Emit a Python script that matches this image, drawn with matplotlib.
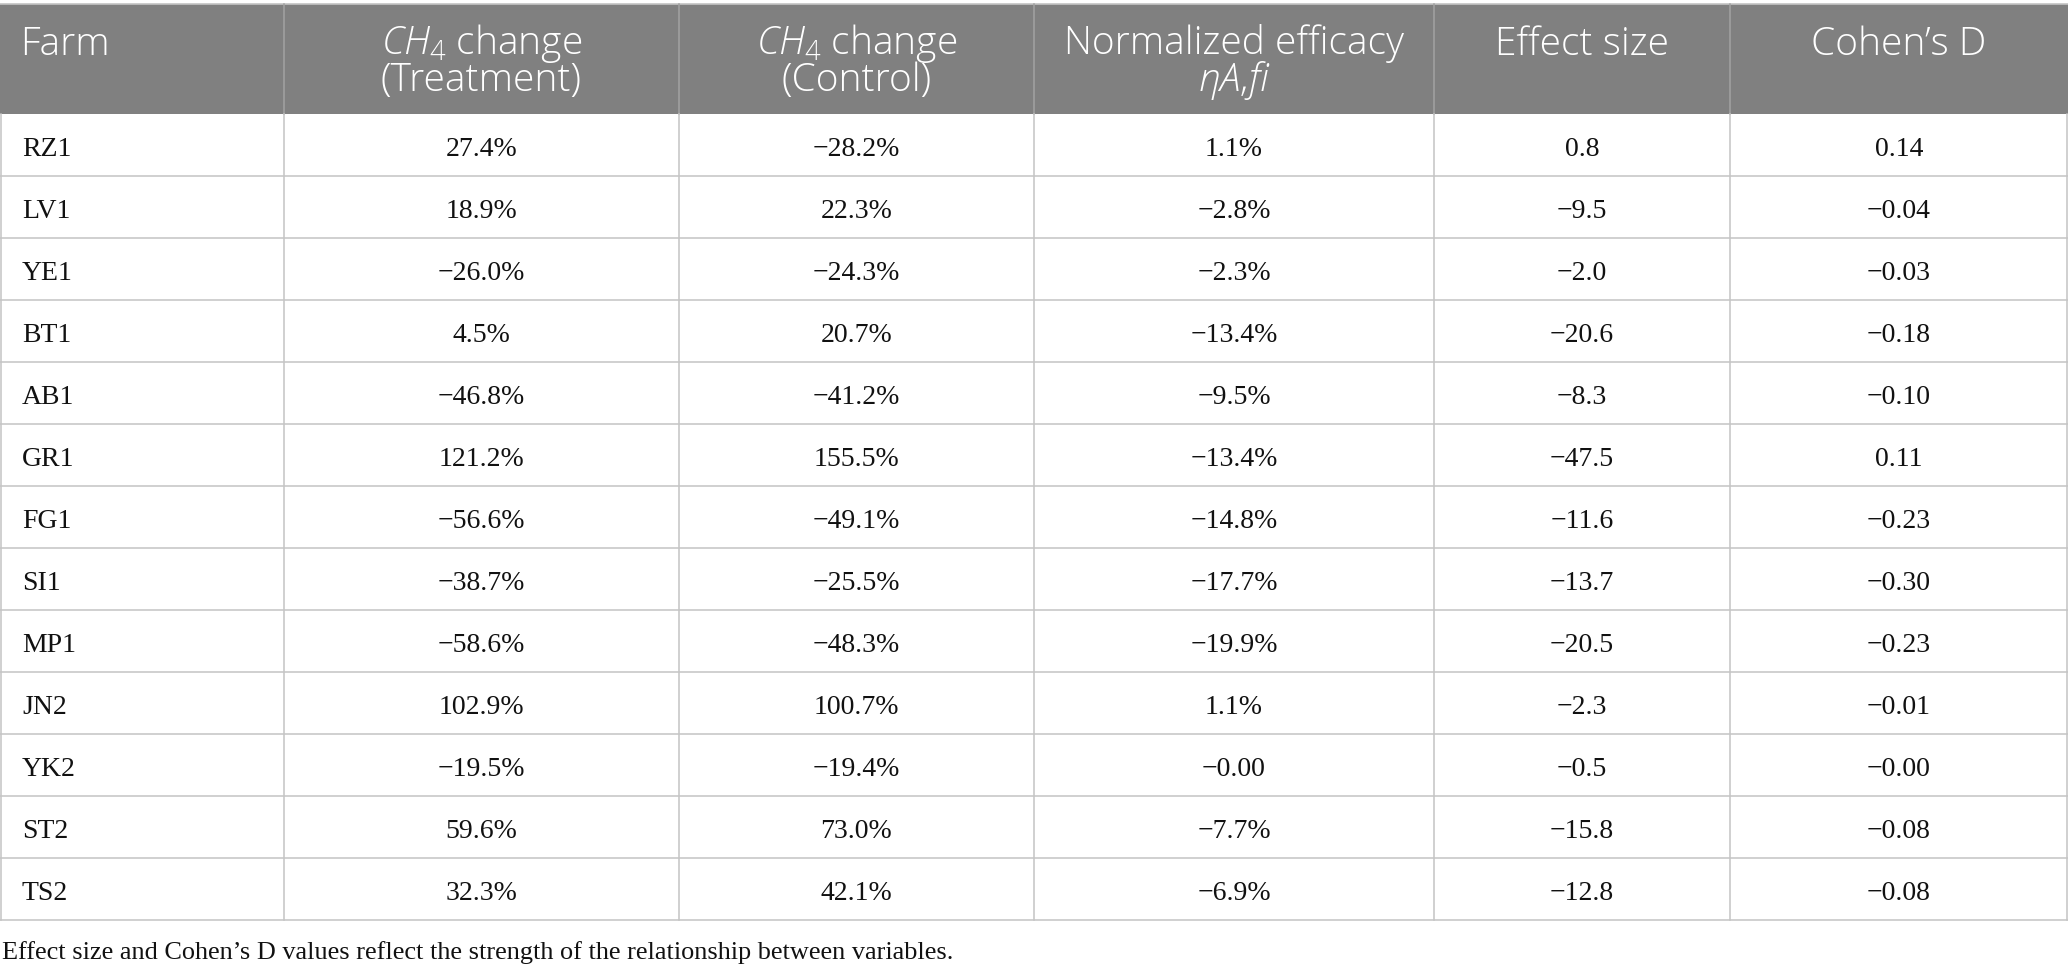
import matplotlib
matplotlib.use("Agg")
import matplotlib.pyplot as plt
from matplotlib.patches import Rectangle

plt.rcParams['mathtext.fontset'] = 'custom'
plt.rcParams['mathtext.rm'] = 'Open Sans:light'
plt.rcParams['mathtext.it'] = 'Open Sans:italic:light'

# table content
headers = [
    "Farm",
    "$CH_4$ change\n(Treatment)",
    "$CH_4$ change\n(Control)",
    "Normalized efficacy\n$\\eta A{,}fi$",
    "Effect size",
    "Cohen\u2019s D",
]
farms = ["RZ1", "LV1", "YE1", "BT1", "AB1", "GR1", "FG1", "SI1", "MP1",
         "JN2", "YK2", "ST2", "TS2"]
treatment = ["27.4%", "18.9%", "\u221226.0%", "4.5%", "\u221246.8%", "121.2%",
             "\u221256.6%", "\u221238.7%", "\u221258.6%", "102.9%", "\u221219.5%",
             "59.6%", "32.3%"]
control = ["\u221228.2%", "22.3%", "\u221224.3%", "20.7%", "\u221241.2%", "155.5%",
           "\u221249.1%", "\u221225.5%", "\u221248.3%", "100.7%", "\u221219.4%",
           "73.0%", "42.1%"]
efficacy = ["1.1%", "\u22122.8%", "\u22122.3%", "\u221213.4%", "\u22129.5%",
            "\u221213.4%", "\u221214.8%", "\u221217.7%", "\u221219.9%", "1.1%",
            "\u22120.00", "\u22127.7%", "\u22126.9%"]
effect_size = ["0.8", "\u22129.5", "\u22122.0", "\u221220.6", "\u22128.3", "\u221247.5",
               "\u221211.6", "\u221213.7", "\u221220.5", "\u22122.3", "\u22120.5",
               "\u221215.8", "\u221212.8"]
cohens_d = ["0.14", "\u22120.04", "\u22120.03", "\u22120.18", "\u22120.10", "0.11",
            "\u22120.23", "\u22120.30", "\u22120.23", "\u22120.01", "\u22120.00",
            "\u22120.08", "\u22120.08"]
footnote = ("Effect size and Cohen\u2019s D values reflect the strength of the "
            "relationship between variables.")

columns = [farms, treatment, control, efficacy, effect_size, cohens_d]

W, H = 2068, 973
fig = plt.figure(figsize=(W / 100, H / 100), dpi=100)
ax = fig.add_axes([0, 0, 1, 1])
ax.set_xlim(0, W)
ax.set_ylim(H, 0)
ax.axis('off')

col_edges = [0, 284, 679, 1034, 1434, 1730, W]
head_top, head_bot = 4, 114
row_h = 62
n_rows = len(farms)
table_bot = head_bot + n_rows * row_h

line_col = '#c4c4c4'
head_bg = '#808080'

# header band
ax.add_patch(Rectangle((0, head_top), W, head_bot - head_top,
                       facecolor=head_bg, edgecolor='none'))
ax.plot([0, W], [head_top, head_top], color=line_col, lw=1.2)
for x in col_edges[1:-1]:
    ax.plot([x, x], [head_top, head_bot], color='#a2a2a2', lw=1.1)

sans = 'Open Sans'
serif = 'Liberation Serif'

for i, txt in enumerate(headers):
    x0, x1 = col_edges[i], col_edges[i + 1]
    yb = 55 + 36 * txt.count("\n")   # baseline of last line
    if i == 0:
        ax.text(x0 + 20, yb, txt, ha='left', va='baseline', color='white',
                fontsize=28, family=sans, weight='light')
    else:
        ax.text((x0 + x1) / 2, yb, txt, ha='center', va='baseline',
                multialignment='center', linespacing=0.87, color='white',
                fontsize=28, family=sans, weight='light')

# body grid
for k in range(1, n_rows + 1):
    y = head_bot + k * row_h
    ax.plot([0, W], [y, y], color=line_col, lw=1.1)
for x in col_edges:
    xx = min(max(x, 0.7), W - 0.7)
    ax.plot([xx, xx], [head_bot, table_bot], color=line_col, lw=1.1)

# body text
for i, col in enumerate(columns):
    x0, x1 = col_edges[i], col_edges[i + 1]
    for r, val in enumerate(col):
        yb = head_bot + r * row_h + 42.5
        if i == 0:
            ax.text(x0 + 22, yb, val, ha='left', va='baseline',
                    color='#111111', fontsize=20, family=serif)
        else:
            ax.text((x0 + x1) / 2, yb, val, ha='center', va='baseline',
                    color='#111111', fontsize=20, family=serif)

ax.text(2, 959, footnote, ha='left', va='baseline', color='#111111',
        fontsize=18.9, family=serif)

fig.savefig('out.png', dpi=100)
